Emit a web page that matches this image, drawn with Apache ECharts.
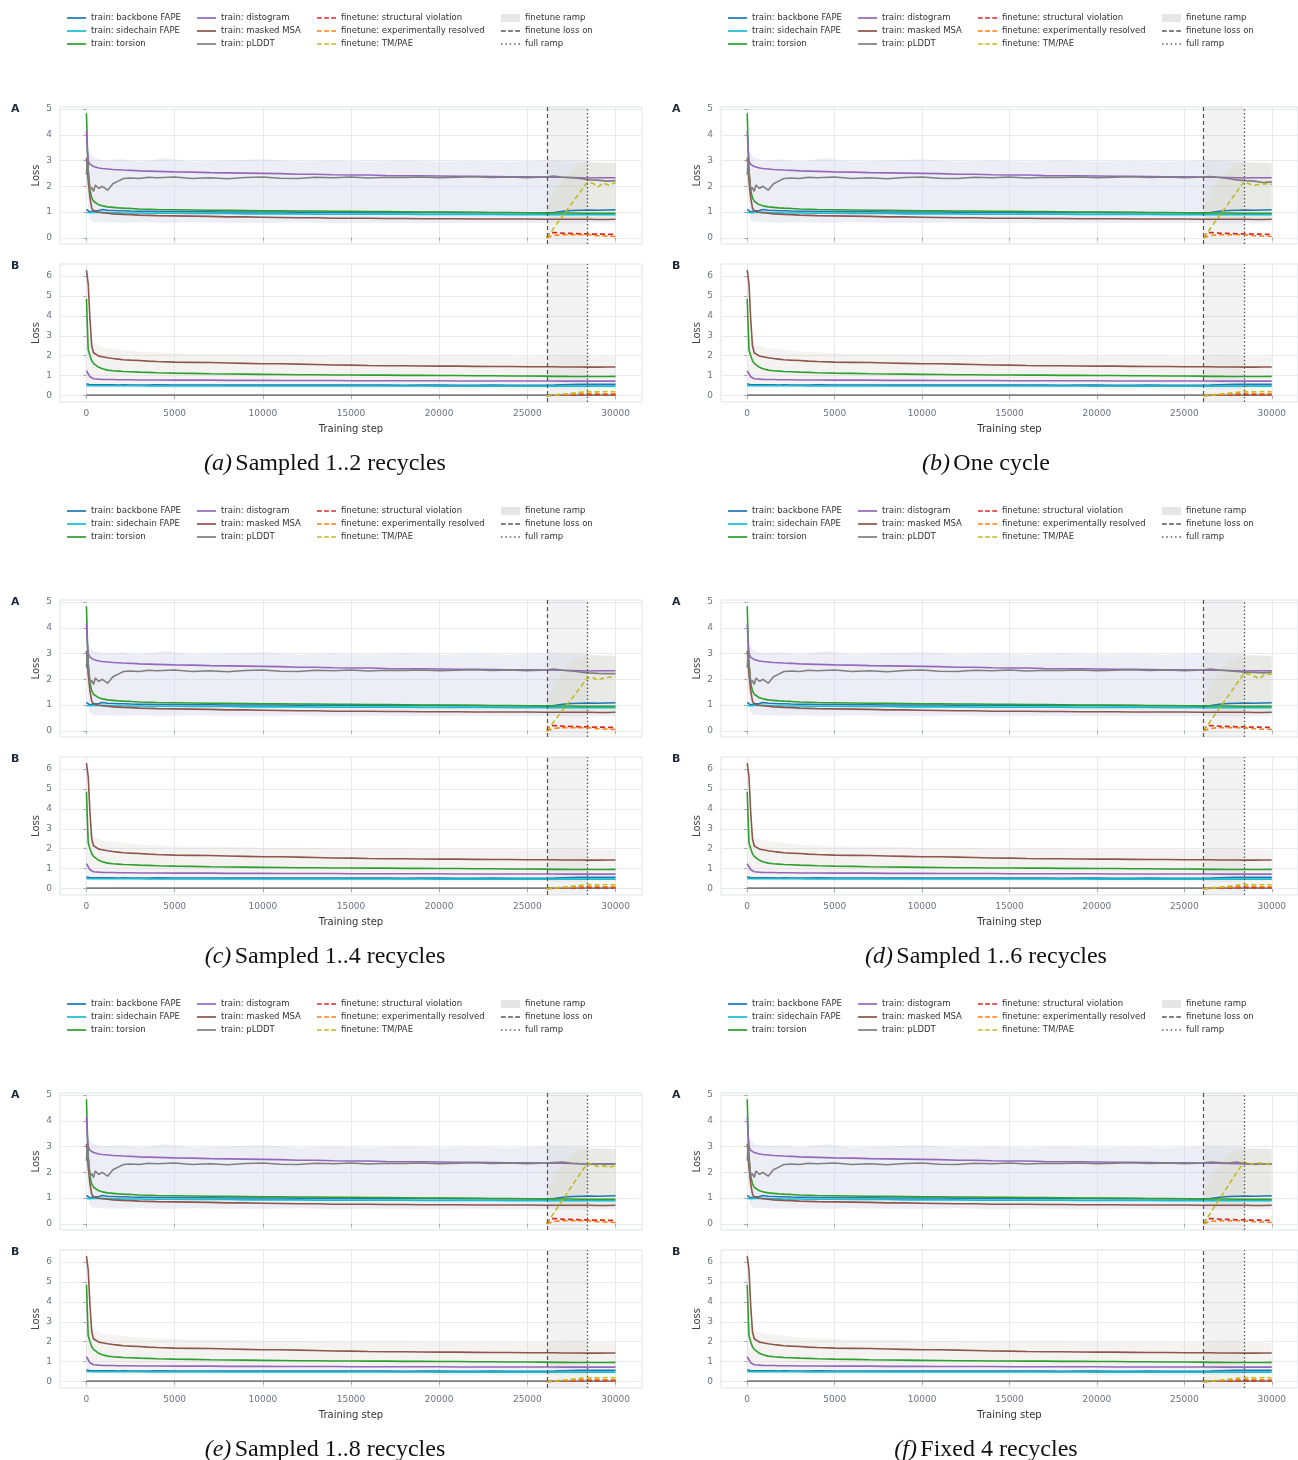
<!DOCTYPE html>
<html>
<head>
<meta charset="utf-8">
<script src="https://cdn.jsdelivr.net/npm/echarts@6/dist/echarts.min.js"></script>
<style>
html, body { margin: 0; background: #fff; }
#chart { width: 1298px; height: 1460px; }
</style>
</head>
<body>
<div id="chart"></div>
<script>
// training steps used by every smoothed training curve
const steps = [0, 50, 100, 200, 300, 400, 500, 700, 900, 1200, 1500, 1800, 2100, 2500, 3000, 3500, 4000,
    5000, 6000, 7000, 8000, 9000, 10000, 11000, 12000, 13000, 14000, 15000, 16000, 17000, 18000, 19000,
    20000, 21000, 22000, 23000, 24000, 25000, 26000, 26500, 27000, 27500, 28000, 28500, 29000, 29500, 30000];
const ftSteps = [26100, 26300, 26600, 27000, 27400, 27800, 28100, 28400, 28700, 29000, 29300, 29600, 30000];
const bandSteps = [0, 150, 400, 1000, 2000, 3000, 4500, 6000, 8000, 10000, 12000, 14000, 16000, 18000,
    20000, 22000, 24000, 26000, 28000, 30000];
const xTicks = [0, 5000, 10000, 15000, 20000, 25000, 30000];
const yTicksA = [0, 1, 2, 3, 4, 5];
const yTicksB = [0, 1, 2, 3, 4, 5, 6];
const rampStart = 26100;
const rampEnd = 28400;

const panelLetters = ['a', 'b', 'c', 'd', 'e', 'f'];
const panelCaptions = ['Sampled 1..2 recycles', 'One cycle', 'Sampled 1..4 recycles',
    'Sampled 1..6 recycles', 'Sampled 1..8 recycles', 'Fixed 4 recycles'];

// subplot A
const aBackbone = [1.1, 1.12, 1.05, 1.0, 1.03, 1.05, 1.08, 1.06, 1.1, 1.07, 1.06, 1.05, 1.05, 1.04, 1.03, 1.03, 1.02,
    1.02, 1.01, 1.01, 1.0, 1.0, 1.0, 1.0, 0.99, 0.99, 0.99, 0.99, 0.98, 0.98, 0.99, 0.98,
    0.98, 0.97, 0.98, 0.97, 0.97, 0.97, 0.96, 0.98, 1.03, 1.06, 1.07, 1.08, 1.07, 1.08, 1.09];
const aSidechain = [0.98, 0.98, 0.97, 0.97, 0.97, 0.98, 0.99, 0.98, 0.99, 0.98, 0.97, 0.97, 0.96, 0.96, 0.96, 0.95, 0.95,
    0.95, 0.94, 0.94, 0.94, 0.93, 0.93, 0.93, 0.93, 0.92, 0.92, 0.92, 0.92, 0.92, 0.92, 0.91,
    0.91, 0.91, 0.91, 0.91, 0.9, 0.9, 0.9, 0.9, 0.9, 0.9, 0.9, 0.9, 0.9, 0.9, 0.9];
const aTorsion = [4.84, 3.6, 2.6, 1.85, 1.55, 1.42, 1.35, 1.28, 1.24, 1.2, 1.18, 1.16, 1.15, 1.14, 1.12, 1.11, 1.1,
    1.09, 1.08, 1.07, 1.07, 1.06, 1.05, 1.05, 1.04, 1.04, 1.03, 1.03, 1.02, 1.02, 1.01, 1.0,
    1.0, 1.0, 0.99, 0.98, 0.98, 0.97, 0.96, 0.96, 0.96, 0.96, 0.95, 0.95, 0.95, 0.95, 0.95];
const aDistogram = [4.15, 3.4, 3.0, 2.85, 2.8, 2.77, 2.74, 2.71, 2.69, 2.67, 2.65, 2.64, 2.63, 2.62, 2.6, 2.59, 2.58,
    2.56, 2.55, 2.53, 2.52, 2.51, 2.5, 2.49, 2.47, 2.47, 2.45, 2.44, 2.44, 2.42, 2.41, 2.41,
    2.4, 2.39, 2.39, 2.38, 2.37, 2.37, 2.36, 2.35, 2.35, 2.34, 2.33, 2.32, 2.33, 2.33, 2.33];
const aMaskedMsa = [3.1, 2.7, 2.2, 1.55, 1.15, 1.05, 1.02, 0.99, 0.97, 0.95, 0.93, 0.92, 0.91, 0.9, 0.88, 0.87, 0.86,
    0.85, 0.84, 0.83, 0.81, 0.81, 0.8, 0.79, 0.78, 0.78, 0.76, 0.76, 0.76, 0.75, 0.75, 0.74,
    0.74, 0.74, 0.73, 0.73, 0.73, 0.73, 0.72, 0.72, 0.72, 0.72, 0.72, 0.72, 0.71, 0.71, 0.72];
// pLDDT up to step 26000, then one tail per panel
const aPlddtHead = [2.45, 3.15, 2.6, 1.85, 1.95, 1.8, 2.05, 1.92, 2.0, 1.85, 2.1, 2.2, 2.3, 2.32, 2.3, 2.35, 2.33,
    2.36, 2.3, 2.33, 2.29, 2.34, 2.36, 2.31, 2.3, 2.35, 2.33, 2.36, 2.32, 2.35, 2.34, 2.36,
    2.33, 2.35, 2.37, 2.34, 2.36, 2.33, 2.36];
const aPlddtTail = [
    [2.4, 2.35, 2.33, 2.3, 2.25, 2.24, 2.2, 2.22],
    [2.38, 2.34, 2.3, 2.25, 2.22, 2.2, 2.15, 2.17],
    [2.4, 2.35, 2.32, 2.28, 2.25, 2.23, 2.22, 2.22],
    [2.4, 2.36, 2.33, 2.3, 2.28, 2.27, 2.25, 2.28],
    [2.38, 2.4, 2.35, 2.33, 2.3, 2.33, 2.3, 2.32],
    [2.4, 2.38, 2.36, 2.4, 2.33, 2.3, 2.33, 2.32]
];
const aStructViol = [0, 0.2, 0.2, 0.18, 0.17, 0.16, 0.15, 0.15, 0.14, 0.14, 0.14, 0.13, 0.13];
const aExpResolved = [0, 0.05, 0.1, 0.12, 0.12, 0.12, 0.12, 0.12, 0.1, 0.08, 0.07, 0.06, 0.05];
const aTmPae = [
    [0, 0.19, 0.47, 0.85, 1.22, 1.6, 1.88, 2.15, 2.12, 1.98, 2.12, 2.05, 2.15],
    [0, 0.19, 0.47, 0.85, 1.22, 1.6, 1.88, 2.17, 2.1, 2.03, 2.08, 2.1, 2.08],
    [0, 0.18, 0.44, 0.8, 1.15, 1.5, 1.78, 2.05, 2.08, 1.95, 2.05, 2.08, 2.1],
    [0, 0.19, 0.48, 0.87, 1.25, 1.63, 1.93, 2.22, 2.2, 2.12, 2.02, 2.2, 2.2],
    [0, 0.21, 0.52, 0.93, 1.34, 1.75, 2.05, 2.35, 2.3, 2.22, 2.25, 2.2, 2.25],
    [0, 0.21, 0.53, 0.95, 1.37, 1.78, 2.1, 2.4, 2.35, 2.3, 2.37, 2.32, 2.35]
];
const aNoiseLow = [2.2, 0.75, 0.6, 0.6, 0.58, 0.6, 0.57, 0.6, 0.58, 0.57, 0.6, 0.56, 0.58, 0.57,
    0.56, 0.58, 0.56, 0.57, 0.55, 0.56];
const aNoiseHigh = [3.4, 3.3, 3.1, 3.0, 3.05, 2.95, 3.1, 2.95, 3.0, 3.05, 2.95, 3.0, 2.95, 3.0,
    2.95, 2.98, 2.95, 3.0, 2.95, 2.9];
const ftNoiseLow = [0.9, 0.8, 0.75, 0.7, 0.7, 0.7, 0.7, 0.7, 0.7, 0.7, 0.7, 0.7, 0.7];
const ftNoiseHigh = [1.2, 1.5, 1.9, 2.3, 2.6, 2.8, 2.9, 2.95, 2.9, 2.95, 2.9, 2.95, 2.9];

// subplot B
const bBackbone = [0.6, 0.58, 0.56, 0.55, 0.55, 0.55, 0.56, 0.55, 0.55, 0.55, 0.55, 0.54, 0.55, 0.54, 0.54, 0.54, 0.55,
    0.54, 0.54, 0.54, 0.53, 0.54, 0.53, 0.53, 0.54, 0.53, 0.53, 0.53, 0.53, 0.53, 0.52, 0.53,
    0.53, 0.52, 0.52, 0.53, 0.52, 0.52, 0.52, 0.53, 0.55, 0.56, 0.57, 0.57, 0.57, 0.57, 0.57];
const bSidechain = [0.5, 0.5, 0.5, 0.5, 0.5, 0.5, 0.5, 0.5, 0.5, 0.5, 0.5, 0.5, 0.5, 0.5, 0.5, 0.49, 0.49,
    0.49, 0.49, 0.49, 0.49, 0.49, 0.49, 0.49, 0.49, 0.49, 0.49, 0.49, 0.49, 0.49, 0.49, 0.49,
    0.48, 0.48, 0.48, 0.48, 0.48, 0.48, 0.48, 0.48, 0.48, 0.48, 0.48, 0.48, 0.48, 0.48, 0.48];
const bTorsion = [4.85, 3.5, 2.3, 2.0, 1.75, 1.62, 1.55, 1.42, 1.35, 1.28, 1.25, 1.23, 1.21, 1.2, 1.18, 1.17, 1.15,
    1.13, 1.12, 1.1, 1.09, 1.08, 1.07, 1.06, 1.05, 1.05, 1.04, 1.04, 1.03, 1.03, 1.02, 1.02,
    1.01, 1.01, 1.0, 1.0, 0.99, 0.99, 0.98, 0.97, 0.97, 0.96, 0.96, 0.96, 0.96, 0.96, 0.97];
const bDistogram = [1.25, 1.24, 1.1, 0.95, 0.88, 0.85, 0.84, 0.83, 0.82, 0.81, 0.81, 0.8, 0.8, 0.8, 0.79, 0.79, 0.79,
    0.78, 0.78, 0.78, 0.77, 0.77, 0.77, 0.76, 0.76, 0.76, 0.76, 0.75, 0.75, 0.75, 0.75, 0.75,
    0.75, 0.74, 0.74, 0.74, 0.74, 0.74, 0.74, 0.74, 0.73, 0.73, 0.73, 0.73, 0.73, 0.73, 0.73];
const bMaskedMsa = [6.28, 6.2, 5.6, 3.8, 2.5, 2.15, 2.05, 1.98, 1.95, 1.9, 1.86, 1.83, 1.8, 1.78, 1.76, 1.73, 1.71,
    1.68, 1.67, 1.66, 1.64, 1.62, 1.6, 1.6, 1.58, 1.56, 1.54, 1.53, 1.51, 1.5, 1.5, 1.49,
    1.48, 1.48, 1.47, 1.46, 1.46, 1.45, 1.45, 1.45, 1.44, 1.44, 1.44, 1.43, 1.43, 1.44, 1.44];
const bPlddt = [0.03, 0.03, 0.03, 0.03, 0.03, 0.03, 0.03, 0.03, 0.03, 0.03, 0.03, 0.03, 0.03, 0.03, 0.03, 0.03, 0.03,
    0.03, 0.03, 0.03, 0.03, 0.03, 0.03, 0.03, 0.03, 0.03, 0.03, 0.03, 0.03, 0.03, 0.03, 0.03,
    0.03, 0.03, 0.03, 0.03, 0.03, 0.03, 0.03, 0.03, 0.03, 0.03, 0.03, 0.03, 0.03, 0.03, 0.03];
const bStructViol = [0, 0.01, 0.02, 0.03, 0.04, 0.04, 0.05, 0.05, 0.05, 0.05, 0.05, 0.05, 0.05];
const bExpResolved = [0, 0.02, 0.03, 0.05, 0.07, 0.09, 0.1, 0.12, 0.12, 0.11, 0.1, 0.1, 0.1];
const bTmPae = [0, 0.02, 0.05, 0.08, 0.11, 0.15, 0.18, 0.2, 0.21, 0.2, 0.2, 0.21, 0.2];
const bNoiseLow = [0.9, 0.5, 0.4, 0.4, 0.38, 0.38, 0.37, 0.38, 0.37, 0.36, 0.36, 0.36, 0.35, 0.36,
    0.35, 0.35, 0.35, 0.35, 0.34, 0.35];
const bNoiseHigh = [6.0, 3.0, 2.6, 2.4, 2.3, 2.2, 2.15, 2.1, 2.1, 2.05, 2.05, 2.0, 2.0, 2.0,
    1.98, 1.97, 1.97, 1.95, 1.97, 1.95];

const C = {
    backbone: '#1f77b4', sidechain: '#17becf', torsion: '#2ca02c', distogram: '#9467bd',
    msa: '#8c564b', plddt: '#7f7f7f', viol: '#d62728', resolved: '#ff7f0e', tm: '#bcbd22'
};

function pairs(xs, ys) {
    return xs.map((x, i) => [x, ys[i]]);
}

const ICON_SOLID = 'path://M0,0M20,10M0,4.1h20v1.8h-20z';
const ICON_DASH = 'path://M0,0M20,10M0,4.1h5v1.8h-5zM7.5,4.1h5v1.8h-5zM15,4.1h5v1.8h-5z';
const ICON_DOT = 'path://M0,0M20,10M0,4.3h1.5v1.4h-1.5zM4.6,4.3h1.5v1.4h-1.5zM9.2,4.3h1.5v1.4h-1.5zM13.8,4.3h1.5v1.4h-1.5zM18.4,4.3h1.5v1.4h-1.5z';
const ICON_RECT = 'path://M0,0M20,10M0,0.8h20v8.4h-20z';

const legendCols = [
    [['train: backbone FAPE', ICON_SOLID], ['train: sidechain FAPE', ICON_SOLID], ['train: torsion', ICON_SOLID]],
    [['train: distogram', ICON_SOLID], ['train: masked MSA', ICON_SOLID], ['train: pLDDT', ICON_SOLID]],
    [['finetune: structural violation', ICON_DASH], ['finetune: experimentally resolved', ICON_DASH], ['finetune: TM/PAE', ICON_DASH]],
    [['finetune ramp', ICON_RECT], ['finetune loss on', ICON_DASH], ['full ramp', ICON_DOT]]
];
const legendColX = [67, 197, 317, 501];

const grids = [], xAxes = [], yAxes = [], series = [], legends = [], graphics = [];
const axisLabelColor = '#6b7280';

function lineSeries(name, color, gi, data, dashed) {
    return {
        name: name, type: 'line', xAxisIndex: gi, yAxisIndex: gi, data: data,
        color: color, symbol: 'none', silent: true, z: 4,
        lineStyle: { width: 1.6, color: color, type: dashed ? [5, 3] : 'solid' }
    };
}

// shaded spread of the raw (unsmoothed) losses, drawn as one polygon
function bandSeries(gi, xs, lo, hi, fill) {
    const rows = xs.map((x, i) => [x, lo[i], hi[i]]);
    series.push({
        type: 'custom', xAxisIndex: gi, yAxisIndex: gi, silent: true, z: 1, data: rows,
        renderItem: function (params, api) {
            if (params.dataIndex !== 0) return null;
            const top = rows.map(r => api.coord([r[0], r[2]]));
            const bottom = rows.slice().reverse().map(r => api.coord([r[0], r[1]]));
            return { type: 'polygon', shape: { points: top.concat(bottom) }, style: { fill: fill } };
        }
    });
}

function guideSeries(gi) {
    series.push({
        name: 'finetune ramp', type: 'line', xAxisIndex: gi, yAxisIndex: gi, data: [], color: '#e6e6e6',
        markArea: { silent: true, itemStyle: { color: 'rgba(0,0,0,0.05)' }, data: [[{ xAxis: rampStart }, { xAxis: rampEnd }]] }
    });
    series.push({
        name: 'finetune loss on', type: 'line', xAxisIndex: gi, yAxisIndex: gi, data: [], color: '#555',
        markLine: { silent: true, symbol: 'none', label: { show: false }, lineStyle: { color: '#555', type: [4, 3], width: 1.2 }, data: [{ xAxis: rampStart }] }
    });
    series.push({
        name: 'full ramp', type: 'line', xAxisIndex: gi, yAxisIndex: gi, data: [], color: '#555',
        markLine: { silent: true, symbol: 'none', label: { show: false }, lineStyle: { color: '#555', type: [1.5, 2.2], width: 1.3 }, data: [{ xAxis: rampEnd }] }
    });
}

function axes(gi, showXLabels, yMin, yMax, yTicks) {
    xAxes.push({
        gridIndex: gi, type: 'value', min: -1500, max: 31500,
        name: showXLabels ? 'Training step' : '', nameLocation: 'middle', nameGap: 22,
        nameTextStyle: { fontSize: 10, color: '#333' },
        axisLine: { show: false },
        axisTick: { show: true, length: 3, lineStyle: { color: '#a0a6ae' }, customValues: xTicks },
        axisLabel: { show: showXLabels, fontSize: 9, color: axisLabelColor, margin: 7, customValues: xTicks,
            formatter: v => String(v) },
        splitLine: { show: true, lineStyle: { color: '#e8eaee', width: 1 } }
    });
    yAxes.push({
        gridIndex: gi, type: 'value', min: yMin, max: yMax,
        name: 'Loss', nameLocation: 'middle', nameGap: 19,
        nameTextStyle: { fontSize: 10, color: '#444' },
        axisLine: { show: false },
        axisTick: { show: true, length: 3, lineStyle: { color: '#a0a6ae' }, customValues: yTicks },
        axisLabel: { fontSize: 9, color: axisLabelColor, margin: 8, customValues: yTicks },
        splitLine: { show: true, lineStyle: { color: '#e8eaee', width: 1 } }
    });
}

panelLetters.forEach((letter, p) => {
    const ox = (p % 2) * 661;
    const oy = Math.floor(p / 2) * 493;
    const ga = 2 * p, gb = 2 * p + 1;

    grids.push({ left: 60 + ox, top: 107 + oy, width: 582, height: 137, show: true, borderColor: '#dfe3e8', borderWidth: 1 });
    grids.push({ left: 60 + ox, top: 264 + oy, width: 582, height: 138, show: true, borderColor: '#dfe3e8', borderWidth: 1 });
    axes(ga, false, -0.242, 5.08, yTicksA);
    axes(gb, true, -0.314, 6.59, yTicksB);

    bandSeries(ga, bandSteps, aNoiseLow, aNoiseHigh, 'rgba(195,200,222,0.3)');
    bandSeries(ga, ftSteps, ftNoiseLow, ftNoiseHigh, 'rgba(188,189,34,0.07)');
    bandSeries(gb, bandSteps, bNoiseLow, bNoiseHigh, 'rgba(210,195,195,0.22)');
    guideSeries(ga);
    guideSeries(gb);

    const plddt = aPlddtHead.concat(aPlddtTail[p]);
    series.push(
        lineSeries('train: backbone FAPE', C.backbone, ga, pairs(steps, aBackbone)),
        lineSeries('train: sidechain FAPE', C.sidechain, ga, pairs(steps, aSidechain)),
        lineSeries('train: torsion', C.torsion, ga, pairs(steps, aTorsion)),
        lineSeries('train: distogram', C.distogram, ga, pairs(steps, aDistogram)),
        lineSeries('train: masked MSA', C.msa, ga, pairs(steps, aMaskedMsa)),
        lineSeries('train: pLDDT', C.plddt, ga, pairs(steps, plddt)),
        lineSeries('finetune: structural violation', C.viol, ga, pairs(ftSteps, aStructViol), true),
        lineSeries('finetune: experimentally resolved', C.resolved, ga, pairs(ftSteps, aExpResolved), true),
        lineSeries('finetune: TM/PAE', C.tm, ga, pairs(ftSteps, aTmPae[p]), true),

        lineSeries('train: backbone FAPE', C.backbone, gb, pairs(steps, bBackbone)),
        lineSeries('train: sidechain FAPE', C.sidechain, gb, pairs(steps, bSidechain)),
        lineSeries('train: torsion', C.torsion, gb, pairs(steps, bTorsion)),
        lineSeries('train: distogram', C.distogram, gb, pairs(steps, bDistogram)),
        lineSeries('train: masked MSA', C.msa, gb, pairs(steps, bMaskedMsa)),
        lineSeries('train: pLDDT', C.plddt, gb, pairs(steps, bPlddt)),
        lineSeries('finetune: structural violation', C.viol, gb, pairs(ftSteps, bStructViol), true),
        lineSeries('finetune: experimentally resolved', C.resolved, gb, pairs(ftSteps, bExpResolved), true),
        lineSeries('finetune: TM/PAE', C.tm, gb, pairs(ftSteps, bTmPae), true)
    );

    legendCols.forEach((col, ci) => {
        legends.push({
            orient: 'vertical', left: legendColX[ci] + ox, top: 13 + oy,
            itemWidth: 19, itemHeight: 10, itemGap: 3, padding: 0,
            selectedMode: false,
            itemStyle: { borderWidth: 0 },
            textStyle: { fontSize: 8.5, color: '#333', lineHeight: 10 },
            data: col.map(([name, icon]) => ({ name: name, icon: icon }))
        });
    });

    graphics.push(
        { type: 'text', left: 11 + ox, top: 104 + oy, style: { text: 'A', font: 'bold 11px "DejaVu Sans"', fill: '#1f2937' } },
        { type: 'text', left: 11 + ox, top: 261 + oy, style: { text: 'B', font: 'bold 11px "DejaVu Sans"', fill: '#1f2937' } },
        {
            type: 'text', x: 325 + ox, y: 464 + oy,
            style: {
                text: '{i|(' + letter + ')} {r|' + panelCaptions[p] + '}',
                align: 'center', verticalAlign: 'middle',
                rich: {
                    i: { font: 'italic 24px "Liberation Serif"', fill: '#111' },
                    r: { font: '24px "Liberation Serif"', fill: '#111' }
                }
            }
        }
    );
});

const chart = echarts.init(document.getElementById('chart'), null, { renderer: 'canvas' });
chart.setOption({
    backgroundColor: '#fff',
    animation: false,
    textStyle: { fontFamily: 'DejaVu Sans' },
    grid: grids,
    xAxis: xAxes,
    yAxis: yAxes,
    legend: legends,
    graphic: graphics,
    series: series
});
</script>
</body>
</html>
